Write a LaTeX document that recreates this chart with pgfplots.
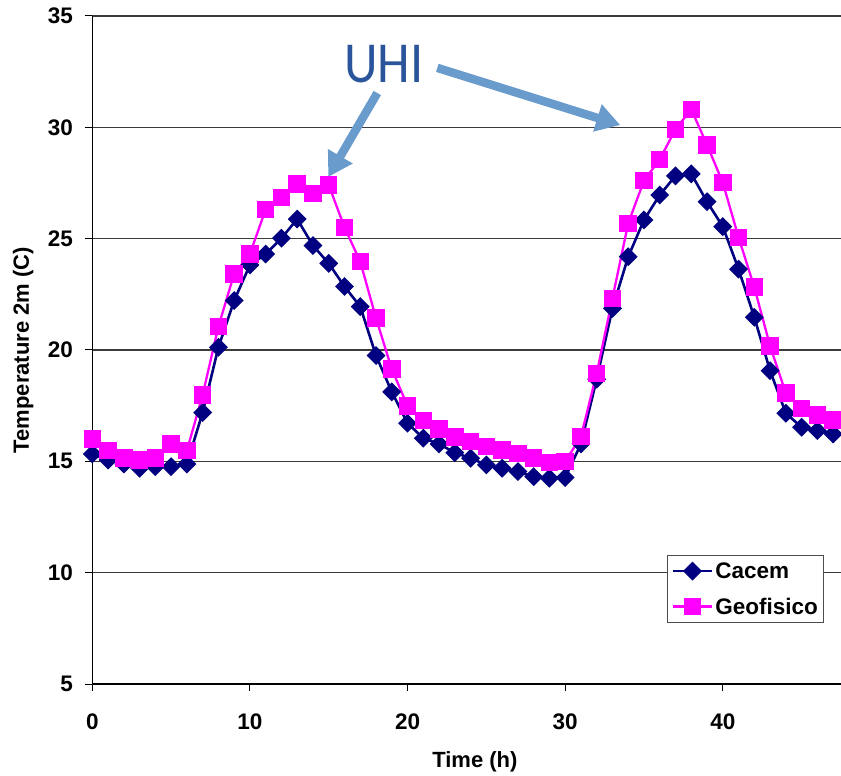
\documentclass[border=0pt]{standalone}
\usepackage{pgfplots}
\pgfplotsset{compat=1.18}
\usepackage{fontspec}
\setmainfont{Liberation Sans}
\newfontfamily\calibri{Carlito}
\usetikzlibrary{arrows.meta}

\definecolor{cacem}{RGB}{0,0,128}
\definecolor{geof}{RGB}{255,0,255}
\definecolor{uhiarrow}{RGB}{106,155,205}
\definecolor{uhitext}{RGB}{42,85,154}
\definecolor{gridc}{RGB}{60,60,60}

\pgfplotstableread{
h T
0 15.33
1 15.06
2 14.88
3 14.69
4 14.76
5 14.76
6 14.88
7 17.19
8 20.12
9 22.22
10 23.82
11 24.31
12 25.02
13 25.88
14 24.69
15 23.89
16 22.85
17 21.95
18 19.75
19 18.12
20 16.71
21 16.04
22 15.78
23 15.39
24 15.14
25 14.84
26 14.69
27 14.54
28 14.31
29 14.24
30 14.27
31 15.78
32 18.69
33 21.87
34 24.19
35 25.84
36 26.96
37 27.82
38 27.91
39 26.66
40 25.54
41 23.63
42 21.47
43 19.07
44 17.16
45 16.53
46 16.38
47 16.23
}\cacemdata

\pgfplotstableread{
h T
0 16.01
1 15.48
2 15.14
3 15.06
4 15.14
5 15.78
6 15.48
7 17.98
8 21.05
9 23.42
10 24.31
11 26.32
12 26.86
13 27.46
14 27.04
15 27.41
16 25.51
17 23.97
18 21.43
19 19.14
20 17.49
21 16.83
22 16.45
23 16.10
24 15.89
25 15.66
26 15.51
27 15.36
28 15.14
29 14.94
30 14.99
31 16.11
32 18.95
33 22.32
34 25.69
35 27.61
36 28.56
37 29.91
38 30.81
39 29.21
40 27.52
41 25.06
42 22.82
43 20.18
44 18.06
45 17.38
46 17.08
47 16.86
}\geofdata

\begin{document}
\begin{tikzpicture}
\useasboundingbox (-92.3bp,-92bp) rectangle (748.7bp,684bp);
\begin{axis}[
  scale only axis,
  width=748.7bp, height=668bp,
  xmin=0, xmax=47.5,
  ymin=5, ymax=35,
  xtick={0,10,...,40},
  ytick={5,10,...,35},
  axis lines=left,
  axis line style={-, line width=1.1bp, black},
  ymajorgrids,
  major grid style={line width=1.1bp, gridc},
  tick align=outside,
  major tick length=7bp,
  tick style={line width=1bp, black},
  clip=false,
  /pgf/number format/assume math mode=true,
  tick label style={font=\fontsize{22.5bp}{27bp}\selectfont\bfseries},
  xticklabel style={yshift=-19bp},
  yticklabel style={xshift=-9bp},
  xlabel={Time (h)},
  ylabel={Temperature 2m (C)},
  label style={font=\fontsize{22bp}{26bp}\selectfont\bfseries},
  xlabel style={at={(axis description cs:0.511,0)}, anchor=center, yshift=-78bp},
  ylabel style={at={(axis description cs:0,0.5)}, anchor=center, yshift=69bp},
  legend style={
    at={(0.9777,0.0913)}, anchor=south east,
    draw=black!70, line width=1bp, fill=white,
    font=\fontsize{22.5bp}{27bp}\selectfont\bfseries,
    inner xsep=4bp, inner ysep=5bp, row sep=14bp,
  },
  legend cell align=left,
  legend image code/.code={
    \draw[mark repeat=2,mark phase=2,#1] plot coordinates {(0bp,0bp) (19.5bp,0bp) (39bp,0bp)};
  },
]
\addplot[color=cacem, line width=2.6bp, mark=square*, mark size=5.4pt,
  mark options={rotate=45, solid, fill=cacem}] table[x=h, y=T] {\cacemdata};
\addlegendentry{Cacem}
\addplot[color=geof, line width=2.3bp, mark=square*, mark size=7.6pt,
  mark options={solid, fill=geof}] table[x=h, y=T] {\geofdata};
\addlegendentry{Geofisico}

% urban heat island callout
\node[text=uhitext, font=\calibri\fontsize{58bp}{60bp}\selectfont, xscale=0.9]
  at (axis cs:18.51,32.84) {UHI};
\draw[uhiarrow, line width=8.5bp, -{Triangle[width=27bp,length=24bp]}]
  (axis cs:18.08,31.54) -- (axis cs:14.97,27.77);
\draw[uhiarrow, line width=8.5bp, -{Triangle[width=27bp,length=24bp]}]
  (axis cs:21.89,32.67) -- (axis cs:33.5,30.1);
\end{axis}
\end{tikzpicture}
\end{document}
